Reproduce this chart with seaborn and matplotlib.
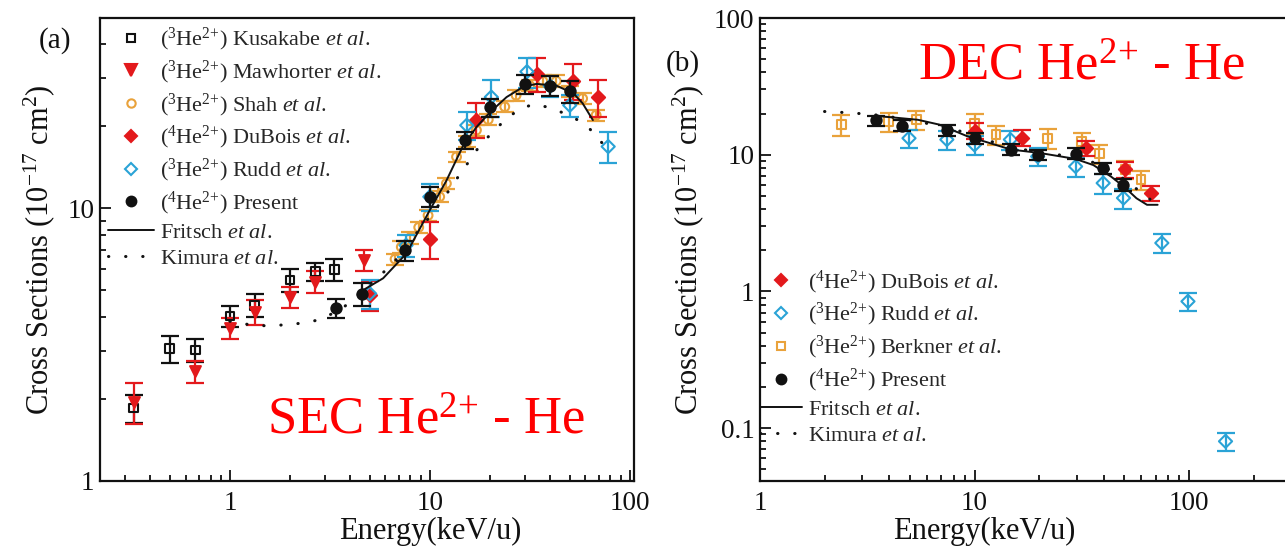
import numpy as np
import pandas as pd
import seaborn as sns
import matplotlib
matplotlib.use("Agg")
import matplotlib.pyplot as plt
from matplotlib.lines import Line2D
from matplotlib.ticker import FixedLocator, LogLocator, FormatStrFormatter, NullFormatter

# ---------------- Panel (a) data: SEC He2+ - He ----------------
kus_E = [0.33, 0.5, 0.67, 1.0, 1.33, 2.0, 2.67, 3.33]
kus_s = [1.85, 3.06, 3.02, 4.02, 4.41, 5.45, 5.85, 5.95]
kus_err = [0.22, 0.35, 0.28, 0.35, 0.43, 0.53, 0.45, 0.55]

maw_E = [0.33, 0.67, 1.0, 1.33, 2.0, 2.67, 4.67]
maw_s = [1.95, 2.52, 3.63, 4.17, 4.73, 5.37, 6.45]
maw_err = [0.33, 0.24, 0.31, 0.43, 0.42, 0.5, 0.56]

shah_E = [6.7, 7.2, 8.0, 8.8, 9.8, 11.2, 12.1, 13.6, 15.3, 17.1, 19.6, 23.7, 27.0, 31.6, 36.7, 42.9, 50.1, 58.1, 67.9]
shah_s = [6.5, 7.2, 7.8, 8.5, 9.4, 11.0, 12.3, 15.4, 17.5, 19.3, 21.1, 23.5, 25.9, 28.1, 29.2, 29.2, 26.8, 25.2, 21.9]
shah_err = [0.3, 0.35, 0.4, 0.4, 0.45, 0.5, 0.55, 0.7, 0.8, 0.9, 1.0, 1.1, 1.2, 1.3, 1.4, 1.4, 1.3, 1.2, 1.0]

dub_a_E = [5.0, 10.0, 17.0, 34.5, 52.0, 69.0]
dub_a_s = [4.8, 7.7, 21.1, 31.1, 29.2, 25.5]
dub_a_err = [0.6, 1.2, 3.1, 4.4, 4.4, 4.0]

rudd_a_E = [5.0, 7.6, 10.0, 15.3, 20.3, 30.6, 40.0, 50.1, 78.0]
rudd_a_s = [4.86, 7.3, 11.0, 20.1, 25.5, 31.6, 28.0, 23.8, 16.8]
rudd_a_err = [0.6, 0.7, 1.25, 2.3, 4.0, 4.0, 2.5, 2.2, 2.2]

pres_a_E = [3.4, 4.6, 7.5, 10.0, 15.0, 20.0, 30.0, 40.0, 50.0]
pres_a_s = [4.29, 4.86, 7.0, 11.0, 17.7, 23.4, 28.5, 28.1, 26.8]
pres_a_err = [0.35, 0.47, 0.6, 0.9, 1.3, 1.8, 2.3, 2.3, 2.5]

fri_a_E = [4.63, 5.84, 7.64, 10.0, 12.1, 14.6, 17.1, 19.95, 24.2, 29.3, 34.1, 42.9, 52.3, 58.1, 65.4]
fri_a_s = [5.0, 5.53, 6.82, 9.83, 12.6, 16.8, 19.8, 22.4, 25.5, 27.8, 28.5, 28.1, 26.3, 24.2, 21.0]

kim_a_E = [1.0, 1.3, 1.6, 2.0, 2.4, 2.8, 3.6, 4.5, 5.7, 6.7, 8.0, 10.0, 11.9, 13.1, 14.7, 16.4, 18.1, 20.7, 23.7, 27.5, 32.7, 39.4, 47.3, 55.1, 63.1, 81.1]
kim_a_s = [3.85, 3.72, 3.7, 3.75, 3.8, 3.9, 4.25, 4.9, 5.7, 6.4, 7.6, 9.3, 11.0, 12.3, 13.8, 15.6, 17.2, 19.0, 21.0, 22.8, 24.0, 23.4, 22.2, 21.0, 19.5, 15.8]

# ---------------- Panel (b) data: DEC He2+ - He ----------------
dub_b_E = [10.0, 16.6, 33.0, 50.4, 66.3]
dub_b_s = [15.0, 13.3, 11.2, 7.8, 5.25]
dub_b_err = [2.0, 1.8, 1.5, 1.0, 0.7]

rudd_b_E = [4.95, 7.43, 10.0, 14.7, 19.7, 29.6, 39.8, 49.5, 74.7, 98.9, 148.0]
rudd_b_s = [13.2, 12.9, 11.8, 12.9, 9.7, 8.2, 6.2, 4.82, 2.26, 0.845, 0.080]
rudd_b_err = [2.0, 2.0, 1.8, 2.0, 1.4, 1.3, 1.0, 0.8, 0.35, 0.13, 0.012]

berk_E = [2.39, 3.98, 5.35, 10.0, 12.6, 21.9, 31.6, 38.1, 50.4, 59.8]
berk_s = [16.6, 17.5, 18.0, 17.0, 14.0, 13.2, 12.5, 10.2, 7.8, 6.56]
berk_err = [2.8, 2.8, 2.8, 2.8, 2.2, 2.2, 2.0, 1.6, 1.2, 1.0]

pres_b_E = [3.48, 4.59, 7.43, 10.0, 14.8, 19.7, 29.6, 39.8, 49.5]
pres_b_s = [17.8, 16.3, 15.1, 13.2, 10.9, 10.0, 10.2, 7.97, 6.03]
pres_b_err = [1.5, 1.5, 1.4, 1.3, 1.0, 0.9, 0.9, 0.7, 0.6]

fri_b_E = [3.65, 5.45, 6.85, 9.3, 11.7, 14.8, 20.1, 25.3, 29.6, 35.8, 43.4, 50.6, 56.9, 63.7, 71.4]
fri_b_s = [19.1, 18.0, 16.6, 13.6, 12.2, 10.9, 10.3, 9.7, 9.3, 8.4, 6.9, 5.7, 4.8, 4.3, 4.3]

kim_b_E = [2.0, 2.4, 2.8, 3.5, 4.5, 5.5, 7.0, 9.0, 11.0, 14.0, 18.0, 22.0, 27.0, 33.0, 40.0, 48.0, 58.0, 66.0, 73.0]
kim_b_s = [20.7, 20.4, 20.1, 19.5, 18.5, 17.5, 16.0, 14.6, 13.0, 11.6, 10.7, 10.2, 9.8, 9.2, 8.2, 6.9, 5.5, 4.7, 4.2]

x_ticks_a = [1, 10, 100]
y_ticks_a = [1, 10]
x_ticks_b = [1, 10, 100]
y_ticks_b = [0.1, 1, 10, 100]

# ---------------- style ----------------
sns.set_theme(style="ticks")
plt.rcParams["font.family"] = ["Liberation Serif", "DejaVu Serif"]
plt.rcParams["mathtext.fontset"] = "custom"
plt.rcParams["mathtext.rm"] = "Liberation Serif"
plt.rcParams["mathtext.it"] = "Liberation Serif:italic"
plt.rcParams["mathtext.bf"] = "Liberation Serif:bold"

BLACK = "#111111"
RED = "#E3191C"
ORANGE = "#E9A23B"
CYAN = "#2AA3D6"

W, H = 1285, 551
fig = plt.figure(figsize=(W / 100, H / 100), dpi=100)
axA = fig.add_axes([100 / W, 70 / H, 534 / W, 463 / H])
axB = fig.add_axes([760 / W, 70 / H, 535 / W, 463 / H])

TICK_FS = 19.5
LABEL_FS = 22
LEG_FS = 16


def errpts(ax, E, s, err, color, marker, open_marker=False, ms=55, z=3):
    ax.errorbar(E, s, yerr=err, fmt="none", ecolor=color, elinewidth=1.6,
                capsize=6.5, capthick=1.6, zorder=z)
    df = pd.DataFrame({"E": E, "s": s})
    sns.scatterplot(data=df, x="E", y="s", ax=ax, marker=marker, color=color,
                    s=ms, linewidth=1.5, zorder=z + 0.5, legend=False)
    coll = ax.collections[-1]
    if open_marker:
        coll.set_facecolor("none")
    else:
        coll.set_facecolor(color)
    coll.set_edgecolor(color)


def curve(ax, E, s, ls):
    df = pd.DataFrame({"E": E, "s": s})
    if ls == "solid":
        sns.lineplot(data=df, x="E", y="s", ax=ax, color=BLACK, linewidth=1.4,
                     sort=False, estimator=None, zorder=6)
    else:
        sns.lineplot(data=df, x="E", y="s", ax=ax, color=BLACK, linewidth=2.2,
                     linestyle=(0, (0.1, 5.5)), dash_capstyle="round",
                     sort=False, estimator=None, zorder=6)


for ax in (axA, axB):
    ax.set_xscale("log")
    ax.set_yscale("log")

# ----- panel (a) -----
errpts(axA, shah_E, shah_s, shah_err, ORANGE, "o", open_marker=True, ms=40, z=2)
errpts(axA, kus_E, kus_s, kus_err, BLACK, "s", open_marker=True, ms=40, z=3)
errpts(axA, maw_E, maw_s, maw_err, RED, "v", ms=60, z=3)
errpts(axA, dub_a_E, dub_a_s, dub_a_err, RED, "D", ms=45, z=3)
errpts(axA, rudd_a_E, rudd_a_s, rudd_a_err, CYAN, "D", open_marker=True, ms=45, z=3)
errpts(axA, pres_a_E, pres_a_s, pres_a_err, BLACK, "o", ms=55, z=4)
curve(axA, fri_a_E, fri_a_s, "solid")
curve(axA, kim_a_E, kim_a_s, "dot")

# ----- panel (b) -----
errpts(axB, berk_E, berk_s, berk_err, ORANGE, "s", open_marker=True, ms=40, z=2)
errpts(axB, rudd_b_E, rudd_b_s, rudd_b_err, CYAN, "D", open_marker=True, ms=45, z=3)
errpts(axB, dub_b_E, dub_b_s, dub_b_err, RED, "D", ms=45, z=3)
errpts(axB, pres_b_E, pres_b_s, pres_b_err, BLACK, "o", ms=55, z=4)
curve(axB, fri_b_E, fri_b_s, "solid")
curve(axB, kim_b_E, kim_b_s, "dot")

# ----- axes formatting -----
axA.set_xlim(0.224, 105)
axA.set_ylim(1, 49.7)
axB.set_xlim(1, 312)
axB.set_ylim(0.041, 100)

for ax, xt, yt in ((axA, x_ticks_a, y_ticks_a), (axB, x_ticks_b, y_ticks_b)):
    ax.xaxis.set_major_locator(FixedLocator(xt))
    ax.yaxis.set_major_locator(FixedLocator(yt))
    ax.xaxis.set_major_formatter(FormatStrFormatter("%g"))
    ax.yaxis.set_major_formatter(FormatStrFormatter("%g"))
    ax.xaxis.set_minor_locator(LogLocator(base=10, subs=np.arange(2, 10)))
    ax.yaxis.set_minor_locator(LogLocator(base=10, subs=np.arange(2, 10)))
    ax.xaxis.set_minor_formatter(NullFormatter())
    ax.yaxis.set_minor_formatter(NullFormatter())
    ax.tick_params(which="both", direction="in", top=False, right=False,
                   labelsize=TICK_FS, colors=BLACK, width=1.3)
    ax.tick_params(axis="x", which="major", length=8, pad=7)
    ax.tick_params(axis="y", which="major", length=8, pad=4)
    ax.tick_params(which="minor", length=4.5)
    for sp in ax.spines.values():
        sp.set_visible(True)
        sp.set_linewidth(1.6)
        sp.set_color(BLACK)
    ax.set_xlabel("Energy(keV/u)", fontsize=LABEL_FS, color=BLACK)
    ax.set_ylabel("Cross Sections (10$^{-17}$ cm$^{2}$)", fontsize=LABEL_FS, color=BLACK)
    ax.grid(False)

axA.xaxis.set_label_coords(0.618, -0.078)
axA.yaxis.set_label_coords(-0.080, 0.5)
axB.xaxis.set_label_coords(0.42, -0.078)
axB.yaxis.set_label_coords(-0.100, 0.5)

# panel letters and titles
fig.text(55 / W, 1 - 41 / H, "(a)", fontsize=21, ha="center", va="center", color=BLACK)
fig.text(683 / W, 1 - 64 / H, "(b)", fontsize=21, ha="center", va="center", color=BLACK)
axA.text(0.61, 0.13, "SEC He$^{2{+}}$ - He", transform=axA.transAxes, fontsize=38,
         color="#FF0000", ha="center", va="center")
axB.text(0.60, 0.895, "DEC He$^{2{+}}$ - He", transform=axB.transAxes, fontsize=38,
         color="#FF0000", ha="center", va="center")


# ----- legends -----
def mk(marker, color, open_marker=False, ms=7):
    return Line2D([], [], linestyle="none", marker=marker, markersize=ms,
                  markerfacecolor="none" if open_marker else color,
                  markeredgecolor=color, markeredgewidth=1.5)


fri_h = Line2D([], [], color=BLACK, linewidth=1.4)
kim_h = Line2D([], [], color=BLACK, linewidth=2.2, linestyle=(0, (0.1, 5.5)),
               dash_capstyle="round")

ea = r"$\mathit{et\ al.}$"
sup = r"He$^{2{+}}$"
labels_a = [
    r"($^{3}$" + sup + ") Kusakabe " + ea,
    r"($^{3}$" + sup + ") Mawhorter " + ea,
    r"($^{3}$" + sup + ") Shah " + ea,
    r"($^{4}$" + sup + ") DuBois " + ea,
    r"($^{3}$" + sup + ") Rudd " + ea,
    r"($^{4}$" + sup + ") Present",
    "Fritsch " + ea,
    "Kimura " + ea,
]
handles_a = [mk("s", BLACK, True, 6), mk("v", RED, ms=8), mk("o", ORANGE, True, 6),
             mk("D", RED, ms=6.5), mk("D", CYAN, True, 6.5), mk("o", BLACK, ms=7),
             fri_h, kim_h]
axA.legend(handles_a, labels_a, loc="upper left", bbox_to_anchor=(0.0, 1.0),
           frameon=False, fontsize=LEG_FS, handlelength=2.1, handletextpad=0.25,
           labelspacing=0.25, borderaxespad=0.35, borderpad=0.0)

labels_b = [
    r"($^{4}$" + sup + ") DuBois " + ea,
    r"($^{3}$" + sup + ") Rudd " + ea,
    r"($^{3}$" + sup + ") Berkner " + ea,
    r"($^{4}$" + sup + ") Present",
    "Fritsch " + ea,
    "Kimura " + ea,
]
handles_b = [mk("D", RED, ms=6.5), mk("D", CYAN, True, 6.5), mk("s", ORANGE, True, 6),
             mk("o", BLACK, ms=7), fri_h, kim_h]
axB.legend(handles_b, labels_b, loc="lower left", bbox_to_anchor=(0.0, 0.075),
           frameon=False, fontsize=LEG_FS, handlelength=1.9, handletextpad=0.25,
           labelspacing=0.25, borderaxespad=0.0, borderpad=0.0)

fig.savefig("out.png", dpi=100, facecolor="white")
